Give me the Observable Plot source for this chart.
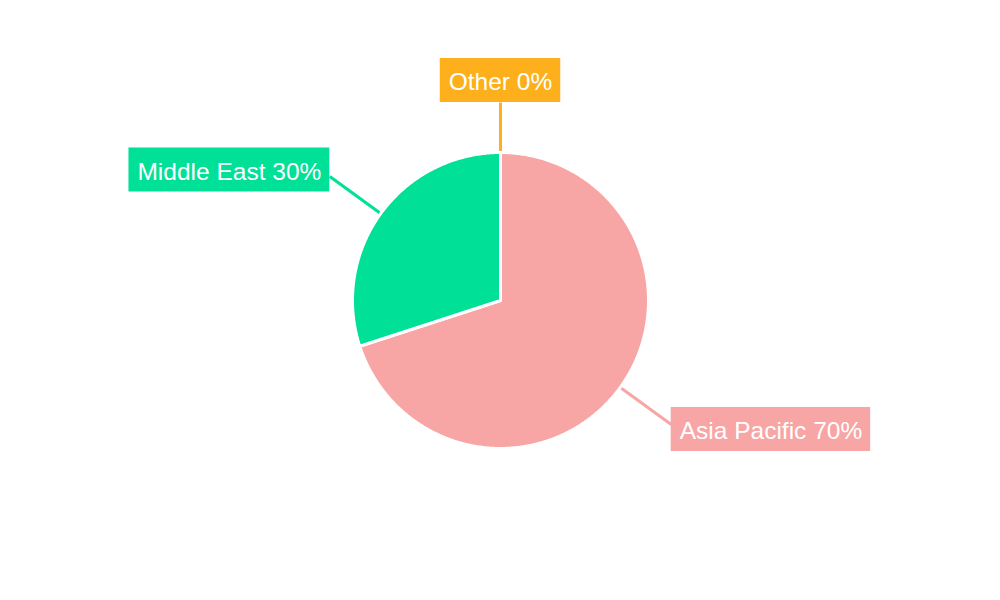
<!DOCTYPE html>
<html>
<head>
<meta charset="utf-8">
<script src="https://cdn.jsdelivr.net/npm/d3@7"></script>
<script src="https://cdn.jsdelivr.net/npm/@observablehq/plot@0.6"></script>
<style>
  html, body { margin: 0; padding: 0; background: #fff; }
  #chart { width: 1000px; height: 600px; }
</style>
</head>
<body>
<div id="chart"></div>
<script>
// ---- data ----
const regions = ["Asia Pacific", "Middle East", "Other"];
const shares = [70, 30, 0];
const colors = ["#F8A5A6", "#00E096", "#FDB01B"];

// ---- layout constants ----
const W = 1000, H = 600;
const R = 148;          // pie radius (px)
const FS = 24.5;
const FONT = `${FS}px 'Liberation Sans', Arial, sans-serif`;
const PADX = 8.5, BOXH = 44;

const total = d3.sum(shares);
const canvas = document.createElement("canvas");
const ctx = canvas.getContext("2d");
ctx.font = FONT;

let acc = 0;
const slices = regions.map((name, i) => {
  const a0 = acc / total * 2 * Math.PI;
  acc += shares[i];
  const a1 = acc / total * 2 * Math.PI;
  return {name, value: shares[i], a0, a1, mid: (a0 + a1) / 2};
});

// polygon points for each slice
const pts = [];
for (const s of slices) {
  if (s.value <= 0) continue;
  pts.push({name: s.name, x: 0, y: 0});
  const n = Math.max(2, Math.ceil((s.a1 - s.a0) / 0.01));
  for (let k = 0; k <= n; k++) {
    const a = s.a0 + (s.a1 - s.a0) * k / n;
    pts.push({name: s.name, x: R * Math.sin(a), y: R * Math.cos(a)});
  }
}

// labels
const labels = slices.map(s => {
  const text = `${s.name} ${s.value}%`;
  const tw = ctx.measureText(text).width;
  const bw = tw + 2 * PADX;
  const sx = Math.sin(s.mid), cy = Math.cos(s.mid);
  let ex, ey, x1, x2, y1, y2;
  if (Math.abs(sx) < 0.15) {
    const re = R + 50;
    ex = re * sx; ey = re * cy;
    x1 = ex - bw / 2; x2 = ex + bw / 2;
    if (cy > 0) { y1 = ey; y2 = ey + BOXH; } else { y2 = ey; y1 = ey - BOXH; }
  } else {
    const re = R + 63;
    ex = re * sx; ey = re * cy;
    if (sx > 0) { x1 = ex; x2 = ex + bw; } else { x2 = ex; x1 = ex - bw; }
    const ccy = ey + (cy > 0 ? 6.5 : -5);
    y1 = ccy - BOXH / 2; y2 = ccy + BOXH / 2;
  }
  return {name: s.name, text, sx0: (R + 1) * sx, sy0: (R + 1) * cy, ex, ey, x1, x2, y1, y2,
          tx: (x1 + x2) / 2, ty: (y1 + y2) / 2};
});

const chart = Plot.plot({
  width: W,
  height: H,
  margin: 0,
  x: {domain: [-W / 2, W / 2], axis: null},
  y: {domain: [-H / 2, H / 2], axis: null},
  color: {domain: regions, range: colors},
  marks: [
    Plot.link(labels, {x1: "sx0", y1: "sy0", x2: "ex", y2: "ey", stroke: "name", strokeWidth: 3}),
    Plot.line(pts, {x: "x", y: "y", z: "name", fill: "name", stroke: "white", strokeWidth: 3,
      strokeLinejoin: "round", curve: "linear-closed"}),
    Plot.rect(labels, {x1: "x1", x2: "x2", y1: "y1", y2: "y2", fill: "name"}),
    Plot.text(labels, {x: "tx", y: "ty", text: "text", fill: "white", fontSize: FS,
      fontFamily: "'Liberation Sans', Arial, sans-serif", textAnchor: "middle", dy: 2})
  ]
});
document.getElementById("chart").appendChild(chart);
</script>
</body>
</html>
